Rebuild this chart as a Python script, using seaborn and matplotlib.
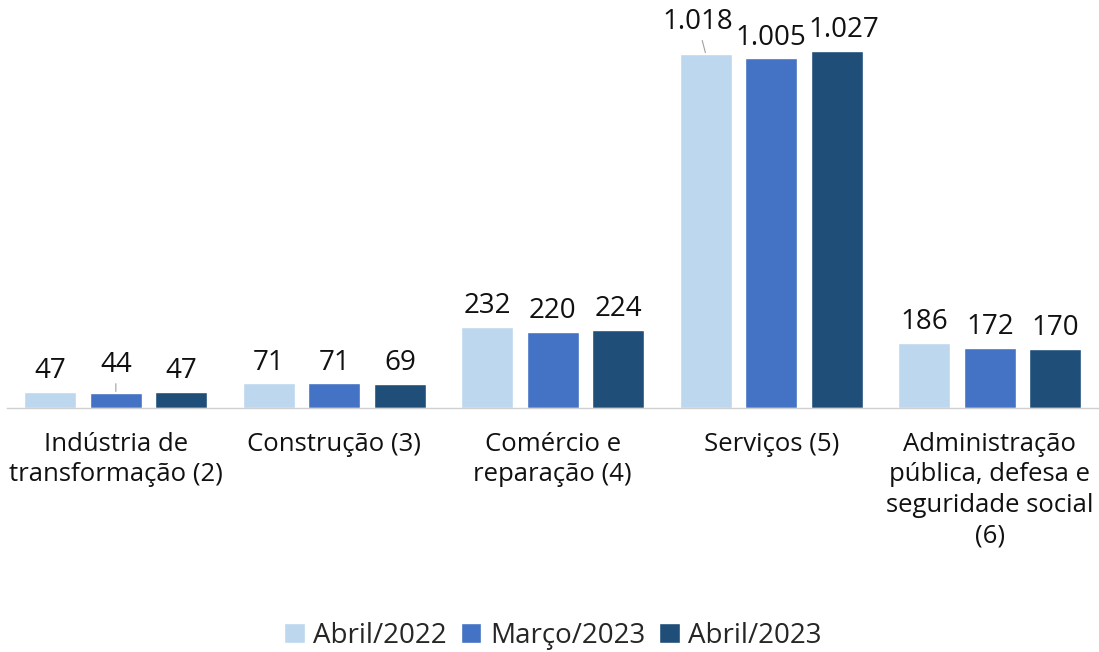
import matplotlib
matplotlib.use("Agg")
import matplotlib.pyplot as plt
import pandas as pd
import seaborn as sns

CATEGORIES = [
    "Indústria de\ntransformação (2)",
    "Construção (3)",
    "Comércio e\nreparação (4)",
    "Serviços (5)",
    "Administração\npública, defesa e\nseguridade social\n(6)",
]
SERIES = ["Abril/2022", "Março/2023", "Abril/2023"]
ABR_2022 = [47, 71, 232, 1018, 186]
MAR_2023 = [44, 71, 220, 1005, 172]
ABR_2023 = [47, 69, 224, 1027, 170]
COLORS = ["#BDD7EE", "#4472C4", "#1F4E79"]

rows = []
for name, vals in zip(SERIES, [ABR_2022, MAR_2023, ABR_2023]):
    for cat, v in zip(CATEGORIES, vals):
        rows.append({"setor": cat, "periodo": name, "valor": v})
df = pd.DataFrame(rows)

sns.set_theme(style="white")
plt.rcParams["font.family"] = ["Open Sans", "DejaVu Sans"]

fig = plt.figure(figsize=(10.99, 6.52), dpi=100)
ax = fig.add_axes([0.006, 0.374, 0.994, 0.587])

sns.barplot(data=df, x="setor", y="valor", hue="periodo", order=CATEGORIES,
            hue_order=SERIES, palette=COLORS, width=0.9, gap=0.21,
            saturation=1, ax=ax, legend=True)

ax.set_xlim(-0.5, 4.5)
ax.set_ylim(0, 1100)
ax.set_xlabel("")
ax.set_ylabel("")
ax.set_yticks([])
ax.tick_params(axis="x", length=0, pad=17, labelsize=18.5, colors="#111111")
for s in ["top", "left", "right"]:
    ax.spines[s].set_visible(False)
ax.spines["bottom"].set_color("#d0d0d0")
ax.spines["bottom"].set_linewidth(1.0)
for t in ax.get_xticklabels():
    t.set_linespacing(1.3)
    t.set_va("top")

def fmt(v):
    return f"{v:,}".replace(",", ".")

# label offsets in points (dx, dy, leader line) keyed by (category, series)
special = {(0, 1): (0, 10, True), (3, 0): (-6, 13, True), (3, 2): (5, 5, False)}
for si, cont in enumerate(ax.containers):
    for ci, bar in enumerate(cont):
        x = bar.get_x() + bar.get_width() / 2
        y = bar.get_height()
        dx, dy, leader = special.get((ci, si), (0, 5, False))
        kw = dict(xytext=(dx, dy), textcoords="offset points", ha="center",
                  va="bottom", fontsize=20, color="#111111")
        if leader:
            kw["arrowprops"] = dict(arrowstyle="-", color="#a0a0a0", lw=0.8,
                                    shrinkA=1, shrinkB=1)
        ax.annotate(fmt(int(y)), (x, y), **kw)

ax.legend_.remove()
handles, labels = ax.get_legend_handles_labels()
fig.legend(handles, labels, loc="center", bbox_to_anchor=(0.503, 0.025), ncol=3,
           frameon=False, fontsize=20, handlelength=0.75, handleheight=0.75,
           handletextpad=0.3, columnspacing=0.5, borderaxespad=0)

fig.savefig("out.png", dpi=100)
